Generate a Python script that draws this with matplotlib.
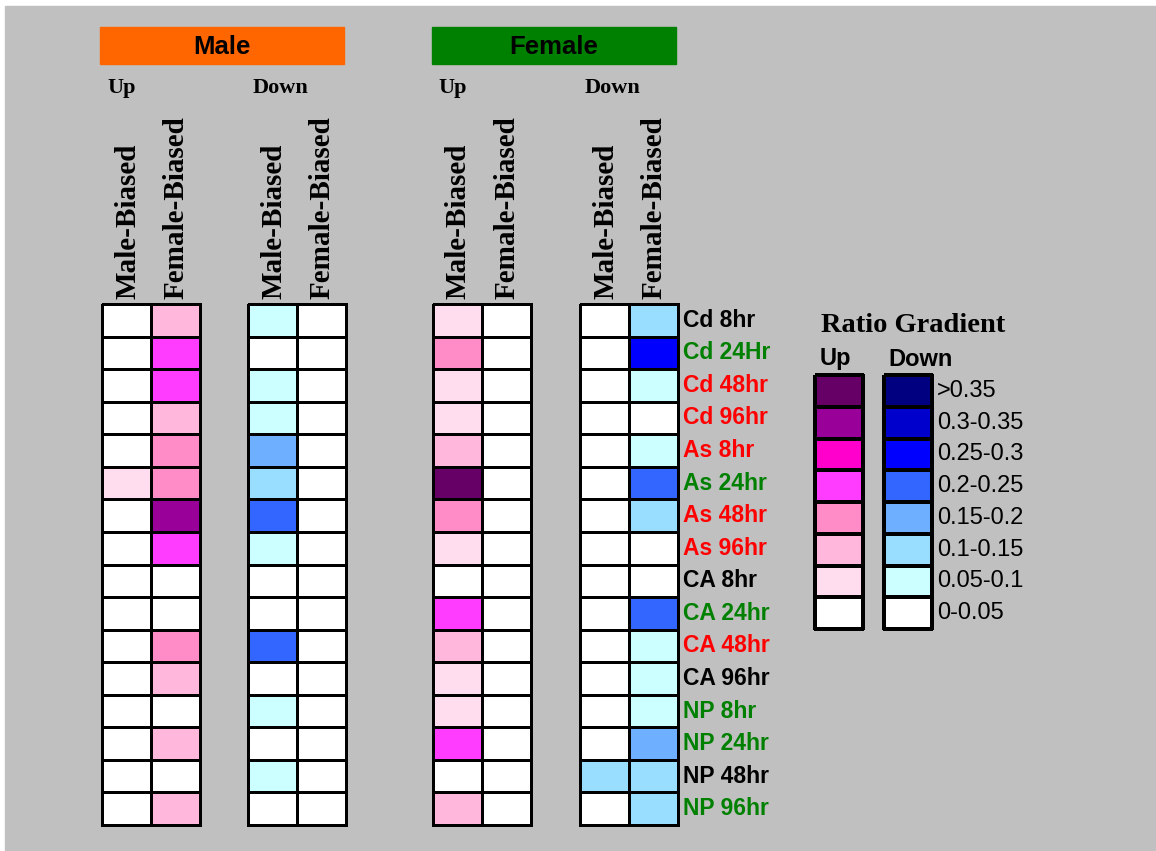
import numpy as np
import matplotlib
matplotlib.use("Agg")
from matplotlib import pyplot as plt
from matplotlib.colors import ListedColormap
from matplotlib.patches import Rectangle

# row labels and their colours
conditions = ["Cd 8hr", "Cd 24Hr", "Cd 48hr", "Cd 96hr", "As 8hr", "As 24hr", "As 48hr", "As 96hr",
              "CA 8hr", "CA 24hr", "CA 48hr", "CA 96hr", "NP 8hr", "NP 24hr", "NP 48hr", "NP 96hr"]
label_colors = ["black", "green", "red", "red", "red", "green", "red", "red",
                "black", "green", "red", "black", "green", "green", "black", "green"]

# ratio level 0..7 (0 = 0-0.05 ... 7 = >0.35)
male_up_mb = [0, 0, 0, 0, 0, 1, 0, 0, 0, 0, 0, 0, 0, 0, 0, 0]
male_up_fb = [2, 4, 4, 2, 3, 3, 6, 4, 0, 0, 3, 2, 0, 2, 0, 2]
male_down_mb = [1, 0, 1, 1, 3, 2, 4, 1, 0, 0, 4, 0, 1, 0, 1, 0]
male_down_fb = [0] * 16
female_up_mb = [1, 3, 1, 1, 2, 7, 3, 1, 0, 4, 2, 1, 1, 4, 0, 2]
female_up_fb = [0] * 16
female_down_mb = [0, 0, 0, 0, 0, 0, 0, 0, 0, 0, 0, 0, 0, 0, 2, 0]
female_down_fb = [2, 5, 1, 0, 1, 4, 2, 0, 0, 4, 1, 1, 1, 3, 2, 2]

legend_labels = ["0-0.05", "0.05-0.1", "0.1-0.15", "0.15-0.2", "0.2-0.25", "0.25-0.3", "0.3-0.35", ">0.35"]
up_colors = ["#FFFFFF", "#FFDDEE", "#FFB8DC", "#FF8CC6", "#FF3CFF", "#FF00CC", "#990099", "#660066"]
down_colors = ["#FFFFFF", "#CCFFFF", "#99DDFF", "#6EB0FF", "#3366FF", "#0000FF", "#0000CC", "#000080"]
up_cmap = ListedColormap(up_colors)
down_cmap = ListedColormap(down_colors)

W, H = 1156, 851
fig = plt.figure(figsize=(W / 100, H / 100), dpi=100, facecolor="white")
ax = fig.add_axes([0, 0, 1, 1])
ax.set_xlim(0, W)
ax.set_ylim(H, 0)
ax.axis("off")
ax.add_patch(Rectangle((5, 6), W - 5, H - 6, color="#C0C0C0", zorder=0))

serif = "Liberation Serif"
sans = "Liberation Sans"

# grid layout
top, bottom = 304, 825
row_edges = np.linspace(top, bottom, len(conditions) + 1)
row_mid = (row_edges[:-1] + row_edges[1:]) / 2
cw = 49
blocks = [
    (102, male_up_mb, male_up_fb, up_cmap, "Up"),
    (248, male_down_mb, male_down_fb, down_cmap, "Down"),
    (433, female_up_mb, female_up_fb, up_cmap, "Up"),
    (580, female_down_mb, female_down_fb, down_cmap, "Down"),
]
for left, mb, fb, cmap, direction in blocks:
    vals = np.column_stack([mb, fb])
    xe = left + cw * np.arange(3)
    ax.pcolormesh(xe, row_edges, vals, cmap=cmap, vmin=-0.5, vmax=7.5,
                  edgecolors="black", linewidth=1.8, zorder=2)
    ax.text(left + 5, 88, direction, fontsize=16, fontweight="bold", family=serif,
            ha="left", va="center")
    for k, name in enumerate(["Male-Biased", "Female-Biased"]):
        ax.text(left + cw * k + cw / 2 + 1, 299, name, rotation=90, fontsize=21,
                fontweight="bold", family=serif, ha="center", va="bottom")

for y, name, c in zip(row_mid, conditions, label_colors):
    ax.text(683, y, name, color=c, fontsize=16.5, fontweight="bold", family=sans,
            ha="left", va="center")

# sex headers
for x0, name, c in [(100, "Male", "#FF6600"), (432, "Female", "#008000")]:
    ax.add_patch(Rectangle((x0, 27), 244, 37, color=c, zorder=1))
    ax.text(x0 + 122, 47, name, fontsize=18.5, fontweight="bold", family=sans,
            ha="center", va="center")

# legend
levels = np.arange(len(legend_labels))[::-1]
leg_edges = np.linspace(375, 629, len(levels) + 1)
leg_mid = (leg_edges[:-1] + leg_edges[1:]) / 2
ax.pcolormesh([815, 863], leg_edges, levels[:, None], cmap=up_cmap, vmin=-0.5, vmax=7.5,
              edgecolors="black", linewidth=1.5, zorder=2)
ax.pcolormesh([884, 932], leg_edges, levels[:, None], cmap=down_cmap, vmin=-0.5, vmax=7.5,
              edgecolors="black", linewidth=1.5, zorder=2)
for y, lv in zip(leg_mid, levels):
    ax.text(937, y, legend_labels[lv], fontsize=17, family=sans, ha="left", va="center")
ax.text(821, 326, "Ratio Gradient", fontsize=20.5, fontweight="bold", family=serif,
        ha="left", va="center")
ax.text(820, 359, "Up", fontsize=17, fontweight="bold", family=sans, ha="left", va="center")
ax.text(888, 359, "Down", fontsize=17, fontweight="bold", family=sans, ha="left", va="center")

fig.savefig("out.png", dpi=100, facecolor="white")
